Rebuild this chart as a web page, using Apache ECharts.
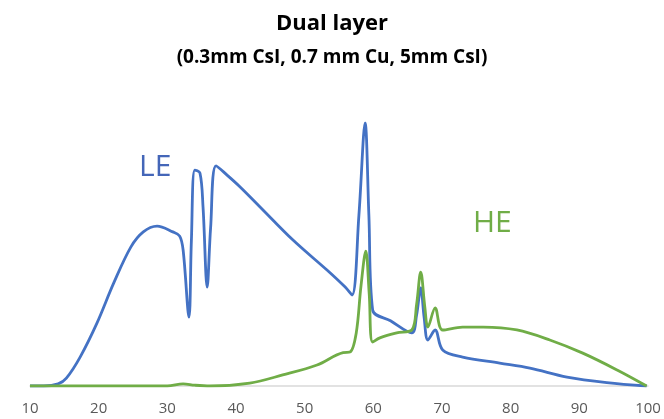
<!DOCTYPE html>
<html>
<head>
<meta charset="utf-8">
<script src="https://cdn.jsdelivr.net/npm/echarts@6/dist/echarts.min.js"></script>
<style>html,body{margin:0;padding:0;background:#fff}#c{width:664px;height:419px}</style>
</head>
<body>
<div id="c"></div>
<script>
const xTicks = [10, 20, 30, 40, 50, 60, 70, 80, 90, 100];
const leEnergy = [10, 12, 14.1, 15.3, 17.3, 19.75, 22.2, 24.7, 26.5, 28.5, 30.8, 31.8, 32.3, 33.15, 33.5, 34.0, 34.75, 35.2, 35.8, 36.3, 37.1, 38.7, 40.6, 43.5, 48.3, 53.25, 55.9, 56.9, 57.9, 58.8, 59.35, 59.9, 62.5, 65.6, 66.3, 66.9, 67.4, 67.95, 69.0, 70.1, 73.0, 78.4, 82.8, 88.2, 94, 99.8];
const leCounts = [0, 0, 0.8, 3.0, 11.0, 23.9, 39.2, 52.9, 58.6, 60.8, 58.6, 57.0, 51.7, 26.2, 55, 82.1, 81.0, 68, 37.6, 60, 83.7, 80.2, 75.7, 68.1, 55.5, 44.1, 37.6, 34.6, 65, 100, 65, 28.9, 24.8, 20.2, 27, 37.3, 26, 17.5, 21.3, 13.7, 11.0, 8.7, 6.8, 3.4, 1.3, 0];
const heEnergy = [10, 20, 30, 32.3, 34.0, 36.2, 42.0, 46.8, 51.8, 55.6, 56.6, 57.5, 58.2, 58.9, 59.4, 59.9, 60.95, 63.4, 65.6, 66.3, 66.9, 67.5, 67.95, 69.0, 70.1, 73.0, 76.0, 80.9, 85.7, 90.5, 95.5, 99.8];
const heCounts = [0, 0, 0, 0.8, 0.3, 0, 1.1, 4.2, 8.0, 12.7, 12.9, 20, 38, 51.3, 35, 16.7, 18.3, 20.2, 21.3, 31, 43.3, 30, 22.4, 29.7, 21.3, 22.4, 22.4, 21.3, 17.5, 12.5, 6.1, 0];
const seriesNames = ['LE', 'HE'];
const titleText = 'Dual layer';
const subtitleText = '(0.3mm CsI, 0.7 mm Cu, 5mm CsI)';

const pair = (xs, ys) => xs.map((x, i) => [x, ys[i]]);

const chart = echarts.init(document.getElementById('c'), null, {renderer: 'canvas'});
chart.setOption({
  animation: false,
  backgroundColor: '#fff',
  title: {
    text: titleText,
    subtext: subtitleText,
    left: 'center',
    top: 8,
    itemGap: 13,
    textStyle: {fontFamily: 'Open Sans', fontWeight: 'bold', fontSize: 22, color: '#000'},
    subtextStyle: {fontFamily: 'Open Sans', fontWeight: 'bold', fontSize: 19, color: '#000'}
  },
  grid: {left: 30, right: 16, top: 123, bottom: 33, containLabel: false},
  xAxis: {
    type: 'value', min: 10, max: 100, interval: 10,
    axisLine: {show: true, lineStyle: {color: '#d9d9d9', width: 1.5}},
    axisTick: {show: false},
    splitLine: {show: false},
    axisLabel: {color: '#595959', fontFamily: 'Open Sans', fontSize: 15, margin: 15,
      formatter: v => xTicks.includes(v) ? String(v) : ''}
  },
  yAxis: {
    type: 'value', min: 0, max: 100,
    show: false
  },
  series: [
    {name: seriesNames[0], type: 'line', data: pair(leEnergy, leCounts), showSymbol: false, smooth: 0.35,
      lineStyle: {color: '#4472C4', width: 2.8}, z: 2},
    {name: seriesNames[1], type: 'line', data: pair(heEnergy, heCounts), showSymbol: false, smooth: 0.35,
      lineStyle: {color: '#70AD47', width: 2.8}, z: 3}
  ],
  graphic: [
    {type: 'text', left: 139, top: 152, style: {text: seriesNames[0], fill: '#4466B8', font: '30px "Open Sans"'}},
    {type: 'text', left: 473, top: 208, style: {text: seriesNames[1], fill: '#70AD47', font: '30px "Open Sans"'}}
  ]
});
</script>
</body>
</html>
